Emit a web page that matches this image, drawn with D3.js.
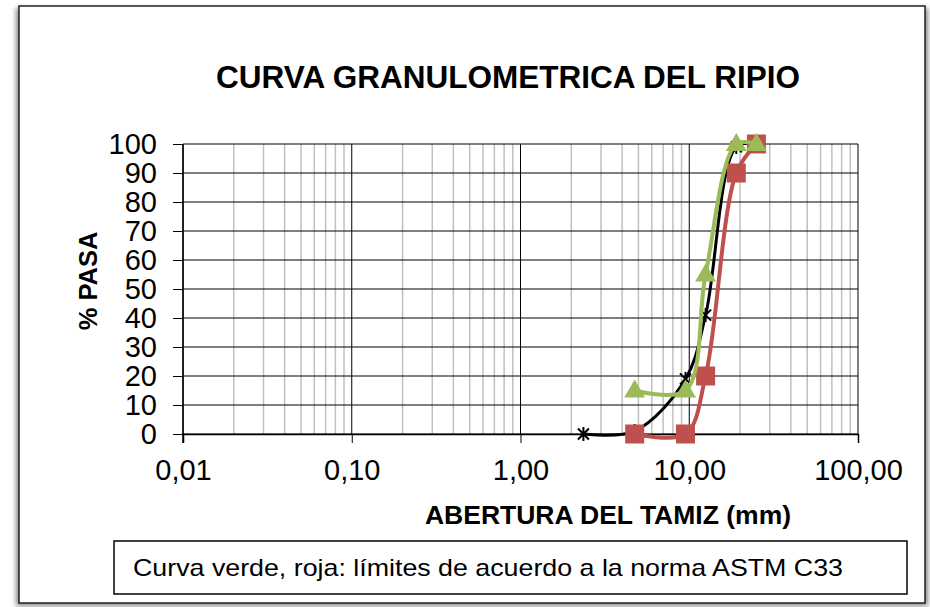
<!DOCTYPE html>
<html lang="es">
<head>
<meta charset="UTF-8">
<title>Curva granulometrica del ripio</title>
<script src="https://d3js.org/d3.v7.min.js"></script>
<style>
  body { margin: 0; background: #fff; }
  text { font-family: "Liberation Sans", Arial, sans-serif; fill: #000; }
</style>
</head>
<body>
<div id="chart"></div>
<script>
    // Sieve openings (mm) and percent passing
    const sieves = [2.36, 4.75, 9.5, 12.5, 19, 25];
    const sample = [0, 1, 19, 41, 99, 100];

    // ASTM C33 limits
    const limitSieves = [4.75, 9.5, 12.5, 19, 25];
    const upperLimit = [15, 15, 55, 100, 100];   // green
    const lowerLimit = [0, 0, 20, 90, 100];      // red

    // Axis ticks
    const xTickValues = [0.01, 0.1, 1, 10, 100];
    const xTickLabels = ["0,01", "0,10", "1,00", "10,00", "100,00"];
    const yTickValues = [0, 10, 20, 30, 40, 50, 60, 70, 80, 90, 100];

    const width = 930, height = 607;
    const plot = { left: 183, right: 858, top: 144, bottom: 434 };

    const svg = d3.select("#chart").append("svg")
        .attr("width", width)
        .attr("height", height);

    // soft shadow behind the chart frame
    const defs = svg.append("defs");
    const blur = defs.append("filter").attr("id", "shadow")
        .attr("x", "-5%").attr("y", "-5%").attr("width", "110%").attr("height", "110%");
    blur.append("feGaussianBlur").attr("stdDeviation", 2.5);

    svg.append("rect")
        .attr("x", 16).attr("y", 8).attr("width", 912).attr("height", 598)
        .attr("fill", "#888").attr("filter", "url(#shadow)");
    svg.append("rect")
        .attr("x", 19).attr("y", 6).attr("width", 906).attr("height", 597)
        .attr("fill", "#fff").attr("stroke", "#222").attr("stroke-width", 1.5);

    const x = d3.scaleLog().domain([0.01, 100]).range([plot.left, plot.right]);
    const y = d3.scaleLinear().domain([0, 100]).range([plot.bottom, plot.top]);

    // minor vertical gridlines (2..9 in each decade)
    const minor = [];
    xTickValues.slice(0, -1).forEach(d => {
        for (let k = 2; k <= 9; k++) minor.push(d * k);
    });
    svg.append("g").selectAll("line").data(minor).join("line")
        .attr("x1", d => x(d)).attr("x2", d => x(d))
        .attr("y1", plot.top).attr("y2", plot.bottom)
        .attr("stroke", "#c0c0c0").attr("stroke-width", 1.5);

    // major gridlines
    svg.append("g").selectAll("line").data(yTickValues).join("line")
        .attr("x1", plot.left).attr("x2", plot.right)
        .attr("y1", d => y(d)).attr("y2", d => y(d))
        .attr("stroke", "#000").attr("stroke-width", 1);
    svg.append("g").selectAll("line").data(xTickValues).join("line")
        .attr("x1", d => x(d)).attr("x2", d => x(d))
        .attr("y1", plot.top).attr("y2", plot.bottom)
        .attr("stroke", "#000").attr("stroke-width", 1);

    // axes
    const xAxis = svg.append("g")
        .attr("transform", `translate(0,${plot.bottom})`)
        .call(d3.axisBottom(x).tickValues(xTickValues)
            .tickFormat((d, i) => xTickLabels[i]).tickSizeOuter(0).tickSize(9).tickPadding(16));
    xAxis.select(".domain").attr("stroke", "#000").attr("stroke-width", 1.5);
    xAxis.selectAll("text").style("font-size", "29px")
        .style("font-family", '"Liberation Sans", Arial, sans-serif');

    const yAxis = svg.append("g")
        .attr("transform", `translate(${plot.left},0)`)
        .call(d3.axisLeft(y).tickValues(yTickValues).tickSizeOuter(0).tickSize(10).tickPadding(16));
    yAxis.select(".domain").attr("stroke", "#000").attr("stroke-width", 1.5)
        .attr("d", `M0,${plot.top}V${plot.bottom + 9}`);
    yAxis.selectAll("text").style("font-size", "29px")
        .style("font-family", '"Liberation Sans", Arial, sans-serif');

    // series (smoothed like the spreadsheet lines)
    const line = d3.line()
        .x(d => x(d[0])).y(d => y(d[1]))
        .curve(d3.curveCatmullRom.alpha(0.5));

    const sampleData = sieves.map((s, i) => [s, sample[i]]);
    const upperData = limitSieves.map((s, i) => [s, upperLimit[i]]);
    const lowerData = limitSieves.map((s, i) => [s, lowerLimit[i]]);

    // black sample curve with star markers
    svg.append("path").datum(sampleData)
        .attr("d", line).attr("fill", "none")
        .attr("stroke", "#000").attr("stroke-width", 3);
    const star = svg.append("g").selectAll("g").data(sampleData).join("g")
        .attr("transform", d => `translate(${x(d[0])},${y(d[1])})`);
    star.append("path")
        .attr("d", "M-5.5,-5.5L5.5,5.5M-5.5,5.5L5.5,-5.5M0,-7V7")
        .attr("stroke", "#000").attr("stroke-width", 2);

    // red lower limit with squares
    svg.append("path").datum(lowerData)
        .attr("d", line).attr("fill", "none")
        .attr("stroke", "#c0504d").attr("stroke-width", 4);
    svg.append("g").selectAll("rect").data(lowerData).join("rect")
        .attr("x", d => x(d[0]) - 9.5).attr("y", d => y(d[1]) - 9.5)
        .attr("width", 19).attr("height", 19)
        .attr("fill", "#c0504d");

    // green upper limit with triangles
    svg.append("path").datum(upperData)
        .attr("d", line).attr("fill", "none")
        .attr("stroke", "#9bbb59").attr("stroke-width", 4);
    svg.append("g").selectAll("path").data(upperData).join("path")
        .attr("d", d3.symbol(d3.symbolTriangle, 190))
        .attr("transform", d => `translate(${x(d[0])},${y(d[1]) + 1})`)
        .attr("fill", "#9bbb59");

    // titles
    svg.append("text")
        .attr("x", 508).attr("y", 88)
        .attr("text-anchor", "middle")
        .style("font-size", "31.5px").style("font-weight", "bold")
        .text("CURVA GRANULOMETRICA DEL RIPIO");

    svg.append("text")
        .attr("transform", "translate(97,281) rotate(-90)")
        .attr("text-anchor", "middle")
        .style("font-size", "25.5px").style("font-weight", "bold")
        .text("% PASA");

    svg.append("text")
        .attr("x", 608).attr("y", 524)
        .attr("text-anchor", "middle")
        .style("font-size", "26.5px").style("font-weight", "bold")
        .text("ABERTURA DEL TAMIZ (mm)");

    // note box
    svg.append("rect")
        .attr("x", 114).attr("y", 541).attr("width", 793).attr("height", 53)
        .attr("fill", "#fff").attr("stroke", "#000").attr("stroke-width", 1.5);
    svg.append("text")
        .attr("x", 133).attr("y", 576)
        .attr("textLength", 710).attr("lengthAdjust", "spacingAndGlyphs")
        .style("font-size", "24px")
        .text("Curva verde, roja: límites de acuerdo a la norma ASTM C33");
</script>
</body>
</html>
